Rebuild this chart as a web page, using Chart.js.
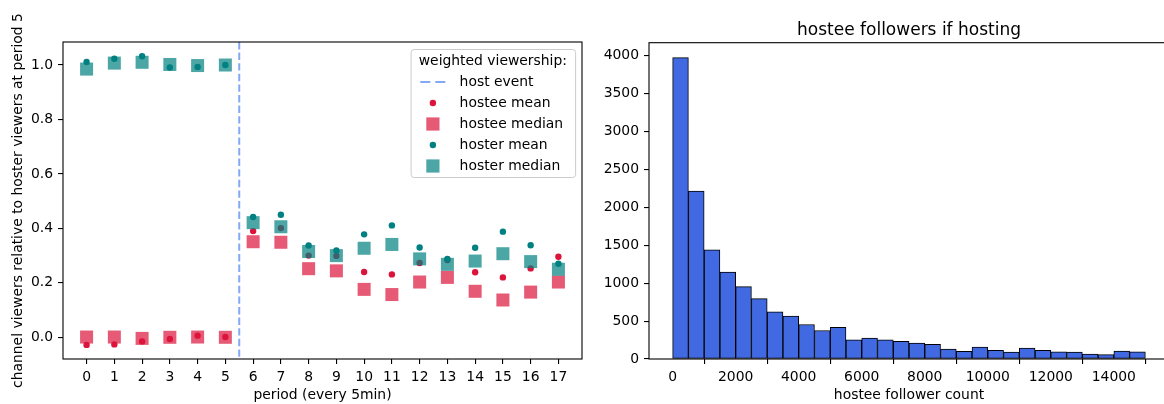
<!DOCTYPE html>
<html>
<head>
<meta charset="utf-8">
<script src="https://cdn.jsdelivr.net/npm/chart.js@4.4.0/dist/chart.umd.min.js"></script>
<style>
  html, body { margin: 0; padding: 0; background: #fff; overflow: hidden; }
  #wrap { position: relative; width: 1164px; height: 404px; overflow: hidden; background: #fff; }
  canvas { position: absolute; top: 0; }
  #left { left: 0; width: 600px; height: 404px; }
  #right { left: 600px; width: 580px; height: 404px; }
</style>
</head>
<body>
<div id="wrap">
  <canvas id="left" width="600" height="404"></canvas>
  <canvas id="right" width="580" height="404"></canvas>
</div>
<script>
// ---- viewership around a host event (relative to hoster viewers at period 5) ----
const periods = [0, 1, 2, 3, 4, 5, 6, 7, 8, 9, 10, 11, 12, 13, 14, 15, 16, 17];
const hostEventPeriod = 5.5;
const hosteeMean   = [-0.028, -0.026, -0.015, -0.006, 0.006, 0.001, 0.390, 0.401, 0.300, 0.299, 0.240, 0.231, 0.273, 0.284, 0.239, 0.220, 0.253, 0.296];
const hosteeMedian = [0.001, 0.001, -0.004, 0.000, 0.001, 0.000, 0.351, 0.349, 0.252, 0.244, 0.176, 0.157, 0.203, 0.220, 0.169, 0.137, 0.166, 0.203];
const hosterMean   = [1.011, 1.023, 1.032, 0.991, 0.993, 1.000, 0.442, 0.450, 0.337, 0.319, 0.378, 0.411, 0.330, 0.288, 0.329, 0.388, 0.338, 0.270];
const hosterMedian = [0.985, 1.007, 1.010, 1.002, 0.998, 1.000, 0.421, 0.406, 0.315, 0.300, 0.327, 0.341, 0.288, 0.268, 0.280, 0.307, 0.278, 0.250];
const ratioTicks = [0.0, 0.2, 0.4, 0.6, 0.8, 1.0];

// ---- histogram of hostee follower counts ----
const binLefts = [0, 500, 1000, 1500, 2000, 2500, 3000, 3500, 4000, 4500, 5000, 5500, 6000, 6500, 7000,
                  7500, 8000, 8500, 9000, 9500, 10000, 10500, 11000, 11500, 12000, 12500, 13000, 13500, 14000, 14500];
const binWidth = 500;
const followerCounts = [3974, 2214, 1440, 1147, 954, 797, 621, 565, 455, 376, 416, 254, 276, 254, 232,
                        210, 193, 131, 101, 158, 114, 92, 144, 114, 96, 92, 66, 57, 105, 96];
const followerTicks = [0, 2000, 4000, 6000, 8000, 10000, 12000, 14000];
const countTicks = [0, 500, 1000, 1500, 2000, 2500, 3000, 3500, 4000];

const FONT = 'DejaVu Sans';
const FS = 13.9;
Chart.defaults.font.family = FONT;
Chart.defaults.color = '#000';

// full rectangular frame around the plotting area
const frame = {
  id: 'frame',
  afterDraw(chart) {
    const { ctx, chartArea: a } = chart;
    ctx.save();
    ctx.strokeStyle = '#000';
    ctx.lineWidth = 1.1;
    ctx.strokeRect(a.left, a.top, a.right - a.left, a.bottom - a.top);
    ctx.restore();
  }
};

// title centred over the plotting area
const areaTitle = {
  id: 'areaTitle',
  afterDraw(chart, args, opts) {
    const { ctx, chartArea: a } = chart;
    ctx.save();
    ctx.font = '17px "' + FONT + '"';
    ctx.fillStyle = '#000';
    ctx.textAlign = 'center';
    ctx.textBaseline = 'alphabetic';
    ctx.fillText(opts.text, (a.left + a.right) / 2, a.top - 7.5);
    ctx.restore();
  }
};

// dashed vertical marker at the host event
const hostLine = {
  id: 'hostLine',
  beforeDatasetsDraw(chart) {
    const { ctx, chartArea: a, scales } = chart;
    const x = scales.x.getPixelForValue(hostEventPeriod);
    ctx.save();
    ctx.beginPath();
    ctx.rect(a.left, a.top, a.right - a.left, a.bottom - a.top);
    ctx.clip();
    ctx.strokeStyle = 'rgba(100,149,237,0.8)';
    ctx.lineWidth = 2;
    ctx.setLineDash([7.4, 3.2]);
    ctx.beginPath();
    ctx.moveTo(x, a.top);
    ctx.lineTo(x, a.bottom);
    ctx.stroke();
    ctx.restore();
  }
};

// boxed legend with a title, upper right of the plotting area
const boxLegend = {
  id: 'boxLegend',
  afterDraw(chart) {
    const { ctx, chartArea: a } = chart;
    const w = 164.5, h = 128;
    const x0 = a.right - 6.9 - w, y0 = a.top + 7;
    ctx.save();
    ctx.beginPath();
    ctx.roundRect(x0 + 0.5, y0 + 0.5, w, h, 3);
    ctx.fillStyle = 'rgba(255,255,255,0.8)';
    ctx.fill();
    ctx.strokeStyle = '#cccccc';
    ctx.lineWidth = 1;
    ctx.stroke();
    ctx.font = FS + 'px "' + FONT + '"';
    ctx.fillStyle = '#000';
    ctx.textBaseline = 'middle';
    ctx.textAlign = 'center';
    ctx.fillText('weighted viewership:', x0 + w / 2, y0 + 12.5);
    ctx.textAlign = 'left';
    const items = [
      { label: 'host event', kind: 'line' },
      { label: 'hostee mean', kind: 'dot', color: 'crimson' },
      { label: 'hostee median', kind: 'sq', color: 'rgba(220,20,60,0.7)' },
      { label: 'hoster mean', kind: 'dot', color: 'teal' },
      { label: 'hoster median', kind: 'sq', color: 'rgba(0,128,128,0.7)' }
    ];
    const mx = x0 + 22.3;
    items.forEach((it, i) => {
      const y = y0 + 33 + i * 21;
      if (it.kind === 'line') {
        ctx.save();
        ctx.strokeStyle = 'rgba(100,149,237,0.8)';
        ctx.lineWidth = 2;
        ctx.setLineDash([10, 5]);
        ctx.beginPath();
        ctx.moveTo(x0 + 9.7, y);
        ctx.lineTo(x0 + 34.7, y);
        ctx.stroke();
        ctx.restore();
      } else if (it.kind === 'dot') {
        ctx.fillStyle = it.color;
        ctx.beginPath();
        ctx.arc(mx, y, 3.2, 0, Math.PI * 2);
        ctx.fill();
      } else {
        ctx.fillStyle = it.color;
        ctx.fillRect(mx - 6.6, y - 6.6, 13.2, 13.2);
      }
      ctx.fillStyle = '#000';
      ctx.fillText(it.label, x0 + 49, y);
    });
    ctx.restore();
  }
};

const tickFont = { family: FONT, size: FS };
const axisGrid = { display: true, drawOnChartArea: false, drawTicks: true, tickLength: 5, color: '#000', lineWidth: 1.1 };

const toPoints = (ys) => periods.map((p, i) => ({ x: p, y: ys[i] }));

new Chart(document.getElementById('left'), {
  type: 'scatter',
  data: {
    datasets: [
      { label: 'hoster median', data: toPoints(hosterMedian), pointStyle: 'rect', pointRadius: 9.2, backgroundColor: 'rgba(0,128,128,0.7)', borderWidth: 0, order: 1 },
      { label: 'hoster mean', data: toPoints(hosterMean), pointStyle: 'circle', pointRadius: 3.2, backgroundColor: 'teal', borderWidth: 0, order: 2 },
      { label: 'hostee median', data: toPoints(hosteeMedian), pointStyle: 'rect', pointRadius: 9.2, backgroundColor: 'rgba(220,20,60,0.7)', borderWidth: 0, order: 3 },
      { label: 'hostee mean', data: toPoints(hosteeMean), pointStyle: 'circle', pointRadius: 3.2, backgroundColor: 'crimson', borderWidth: 0, order: 4 }
    ]
  },
  options: {
    responsive: false, animation: false, devicePixelRatio: 1,
    layout: { padding: { top: 42, right: 18, bottom: 0, left: 10 } },
    plugins: { legend: { display: false }, tooltip: { enabled: false } },
    elements: { point: { hoverRadius: 0 } },
    scales: {
      x: {
        type: 'linear', min: -0.85, max: 17.85,
        afterBuildTicks: (s) => { s.ticks = periods.map(v => ({ value: v })); },
        afterFit: (s) => { s.height = 45; },
        grid: axisGrid, border: { display: false },
        ticks: { font: tickFont, padding: 5, autoSkip: false, maxRotation: 0, callback: (v) => String(v) },
        title: { display: true, text: 'period (every 5min)', font: tickFont, padding: { top: 0, bottom: 0 } }
      },
      y: {
        type: 'linear', min: -0.0797, max: 1.0845,
        afterBuildTicks: (s) => { s.ticks = ratioTicks.map(v => ({ value: v })); },
        afterFit: (s) => { s.width = 53; },
        grid: axisGrid, border: { display: false },
        ticks: { font: tickFont, padding: 5, callback: (v) => v.toFixed(1) },
        title: { display: true, text: 'channel viewers relative to hoster viewers at period 5', font: tickFont, padding: { top: 0, bottom: 0 } }
      }
    }
  },
  plugins: [hostLine, frame, boxLegend]
});

new Chart(document.getElementById('right'), {
  type: 'bar',
  data: {
    datasets: [{
      label: 'hostee followers',
      data: binLefts.map((b, i) => ({ x: b + binWidth / 2, y: followerCounts[i] })),
      backgroundColor: '#4169e1', borderColor: '#000', borderWidth: 1, borderSkipped: false,
      barPercentage: 1, categoryPercentage: 1
    }]
  },
  options: {
    responsive: false, animation: false, devicePixelRatio: 1,
    layout: { padding: { top: 42.7, right: 11, bottom: 0, left: 0 } },
    plugins: {
      legend: { display: false }, tooltip: { enabled: false },
      areaTitle: { text: 'hostee followers if hosting' }
    },
    scales: {
      x: {
        type: 'linear', min: -750, max: 15750, offset: false,
        afterBuildTicks: (s) => { s.ticks = followerTicks.map(v => ({ value: v })); },
        afterFit: (s) => { s.height = 45; },
        grid: axisGrid, border: { display: false },
        ticks: { font: tickFont, padding: 5, autoSkip: false, maxRotation: 0, callback: (v) => String(v) },
        title: { display: true, text: 'hostee follower count', font: tickFont, padding: { top: 0, bottom: 0 } }
      },
      y: {
        type: 'linear', min: 0, max: 4170,
        afterBuildTicks: (s) => { s.ticks = countTicks.map(v => ({ value: v })); },
        afterFit: (s) => { s.width = 49; },
        grid: axisGrid, border: { display: false },
        ticks: { font: tickFont, padding: 5, callback: (v) => String(v) }
      }
    }
  },
  plugins: [frame, areaTitle]
});
</script>
</body>
</html>
